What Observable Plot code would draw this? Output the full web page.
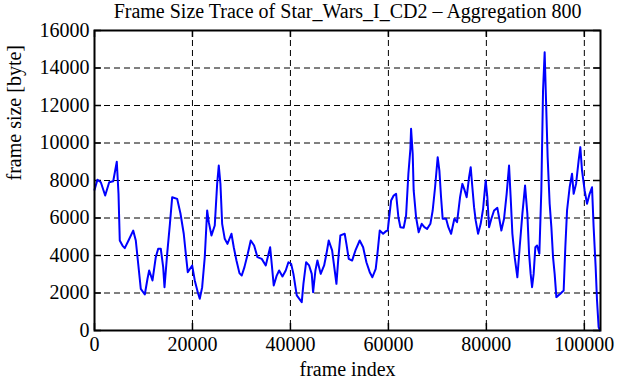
<!DOCTYPE html>
<html>
<head>
<meta charset="utf-8">
<script src="https://cdn.jsdelivr.net/npm/d3@7"></script>
<script src="https://cdn.jsdelivr.net/npm/@observablehq/plot@0.6"></script>
<style>
  html, body { margin: 0; padding: 0; background: #fff; }
</style>
</head>
<body>
<div id="chart"></div>
<script>
const titleText = "Frame Size Trace of Star_Wars_I_CD2 \u2013 Aggregation 800";
const xLabel = "frame index";
const yLabel = "frame size [byte]";
const xTicks = [0, 20000, 40000, 60000, 80000, 100000];
const yTicks = [0, 2000, 4000, 6000, 8000, 10000, 12000, 14000, 16000];

const frameIndex = [
  0, 600, 1290, 2180, 3000, 3820, 4550, 4900, 5160, 5710, 6180, 6940, 7900, 8430, 8920, 9450,
  10270, 10820, 11160, 11840, 12510, 13000, 13530, 14020, 14290, 14840, 15400, 15860, 16880,
  17550, 18220, 18710, 19040, 19940, 20470, 21080, 21490, 21980, 22510, 23000, 23330, 23880,
  24550, 25040, 25370, 25710, 26060, 26590, 27140, 27960, 28430, 28980, 29590, 30060, 30610,
  31290, 31900, 32590, 33270, 34140, 34960, 35860, 36180, 36590, 37200, 37690, 38370, 39040,
  39590, 40140, 40610, 41290, 42310, 42650, 43200, 43810, 44350, 44630, 45100, 45510, 46180,
  46880, 47350, 47820, 48510, 49040, 49390, 49740, 50200, 51080, 51430, 51900, 52590, 53270,
  54140, 54840, 55510, 56190, 56730, 57410, 57760, 58230, 58920, 59530, 59860, 60550, 61080,
  61570, 62040, 62450, 63120, 63610, 64080, 64490, 64630, 64960, 65160, 65650, 66180, 66800,
  67350, 67900, 68570, 69040, 69530, 70060, 70410, 70750, 71080, 71780, 72240, 72800, 73470,
  74020, 74630, 75100, 75570, 75980, 76470, 76800, 77140, 77490, 77820, 78310, 78840, 79330,
  79860, 80200, 80550, 81020, 81570, 82240, 82590, 83060, 83610, 84140, 84630, 84960, 85310,
  85780, 86330, 86800, 87350, 87900, 88370, 88720, 89040, 89330, 89650, 90000, 90350, 90820,
  91220, 91570, 91900, 92180, 92510, 92920, 93270, 93610, 93940, 94290, 95100, 95780, 96120,
  96470, 97000, 97490, 97820, 98310, 98840, 99180, 99530, 100060, 100550, 101080, 101570,
  101900, 102310, 102590, 102920, 103200
];
const frameSize = [
  7500, 8040, 7910, 7200, 7910, 7960, 9000, 7290, 4800, 4530, 4390, 4800, 5330, 4800, 3560, 2220,
  1920, 2760, 3200, 2670, 3910, 4360, 4360, 3380, 2310, 4100, 5700, 7110, 7020,
  6240, 5160, 3910, 3110, 3470, 2670, 2040, 1690, 2310, 3910, 6400, 5780, 5070,
  5600, 7820, 8800, 7820, 5690, 4890, 4620, 5160, 4440, 3730, 3060, 2930, 3380,
  4090, 4800, 4530, 3910, 3820, 3470, 4440, 3560, 2400, 2930, 3200, 2880, 3200,
  3640, 3560, 3020, 1870, 1510, 2490, 3640, 3470, 3020, 2040, 3200, 3730, 3020,
  3470, 4090, 4800, 4270, 3200, 2490, 3730, 5070, 5160, 4620, 3820, 3730, 4270,
  4800, 4440, 3640, 3110, 2840, 3290, 4090, 5330, 5160, 5300, 5330, 6930, 7200,
  7290, 6040, 5510, 5480, 6130, 8360, 9690, 10760, 9420, 7470, 6040, 5240, 5690,
  5510, 5420, 5690, 6400, 7640, 9240, 8530, 7110, 5960, 5960, 5510, 5160, 5960,
  5780, 7110, 7820, 7470, 7110, 8180, 8710, 7640, 6580, 5870, 5160, 5690, 6490,
  8000, 7110, 5510, 5960, 6400, 6540, 6040, 5330, 5960, 7290, 8800, 7110, 5160,
  3910, 2840, 4440, 6220, 7730, 6220, 4090, 3020, 2310, 3020, 4440, 4530, 4090,
  7470, 12800, 14840, 12270, 9240, 6760, 5510, 3910, 3020, 1780, 1960, 2130, 4440,
  6400, 7640, 8360, 7290, 7820, 9070, 9780, 8530, 7470, 6760, 7290, 7640,
  5510, 3380, 1600, 180, 0
];

const data = frameIndex.map((f, i) => ({frame: f, size: frameSize[i]}));

const W = 619, H = 380;
const mL = 94, mR = 19, mT = 30, mB = 50;
const innerW = W - mL - mR, innerH = H - mT - mB;
const tickLen = 7;
const FS = 20;

const chart = Plot.plot({
  width: W,
  height: H,
  marginLeft: mL,
  marginRight: mR,
  marginTop: mT,
  marginBottom: mB,
  style: {fontFamily: "'Liberation Serif', 'DejaVu Serif', serif", fontSize: FS + "px", background: "#fff", color: "#000", overflow: "visible"},
  x: {domain: [0, 103300], ticks: xTicks},
  y: {domain: [0, 16000], ticks: yTicks},
  marks: [
    Plot.gridX(xTicks, {stroke: "#000", strokeOpacity: 1, strokeWidth: 1, strokeDasharray: "6,4"}),
    Plot.gridY(yTicks, {stroke: "#000", strokeOpacity: 1, strokeWidth: 1, strokeDasharray: "6,4"}),
    Plot.tickY(yTicks, {y: d => d, insetRight: innerW - tickLen, stroke: "#000", strokeWidth: 1.5}),
    Plot.tickY(yTicks, {y: d => d, insetLeft: innerW - tickLen, stroke: "#000", strokeWidth: 1.5}),
    Plot.tickX(xTicks, {x: d => d, insetTop: innerH - tickLen, stroke: "#000", strokeWidth: 1.5}),
    Plot.tickX(xTicks, {x: d => d, insetBottom: innerH - tickLen, stroke: "#000", strokeWidth: 1.5}),
    Plot.axisX(xTicks, {tickSize: 0, tickPadding: 6, label: null, fontSize: FS, tickFormat: d3.format("d")}),
    Plot.axisY(yTicks, {tickSize: 0, tickPadding: 5, label: null, fontSize: FS, tickFormat: d3.format("d")}),
    Plot.line(data, {x: "frame", y: "size", stroke: "#0000ff", strokeWidth: 2}),
    Plot.frame({stroke: "#000", strokeWidth: 2}),
    Plot.text([titleText], {text: d => d, frameAnchor: "top", lineAnchor: "middle", dy: -19, fontSize: FS}),
    Plot.text([xLabel], {text: d => d, frameAnchor: "bottom", lineAnchor: "middle", dy: 39, fontSize: FS}),
    Plot.text([yLabel], {text: d => d, frameAnchor: "left", rotate: -90, dx: -80, fontSize: FS})
  ]
});
document.getElementById("chart").appendChild(chart);
</script>
</body>
</html>
